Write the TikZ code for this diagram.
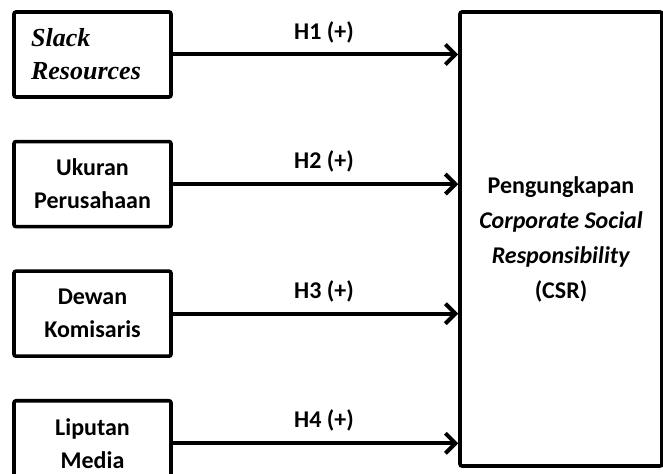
\documentclass[tikz,border=0pt]{standalone}
\usepackage{fontspec}
\setmainfont{Carlito}
\newfontfamily\timesfont{Liberation Serif}
\usetikzlibrary{positioning,arrows.meta}

\begin{document}
\begin{tikzpicture}[
    x=0.5pt, y=-0.5pt,
    var/.style={draw, line width=1.8pt, rounded corners=1pt,
                minimum width=78.5pt, minimum height=42.5pt,
                font=\fontsize{12}{16.5}\selectfont\bfseries, align=center},
    dep/.style={draw, line width=1.8pt, rounded corners=1pt,
                minimum width=101pt, minimum height=227pt,
                font=\fontsize{12}{17.5}\selectfont\bfseries, align=center},
    hyp/.style={->, line width=2pt,
                -{Straight Barb[length=5pt, width=10pt, line width=2pt]}},
    lbl/.style={above=1.5pt, pos=0.53, font=\fontsize{12}{14}\selectfont\bfseries},
    node distance=20.5pt,
  ]
    \useasboundingbox (0,0) rectangle (663,474);

    % independent variables
    \node[var, align=left, font=\timesfont\fontsize{13}{16.5}\selectfont\bfseries\itshape]
      (slack) at (92.5,54.5) {Slack\\Resources\hspace*{6.5pt}};
    \node[var, below=of slack] (ukuran) {Ukuran\\Perusahaan};
    \node[var, below=of ukuran] (dewan) {Dewan\\Komisaris};
    \node[var, below=of dewan] (media) {Liputan\\Media};

    % dependent variable
    \node[dep] (csr) at (561,239)
      {Pengungkapan\\\textit{Corporate Social}\\\textit{Responsibility}\\(CSR)};

    % hypotheses
    \draw[hyp] (slack.east) -- (slack.east -| csr.west) node[lbl] {H1 (+)};
    \draw[hyp] (ukuran.east) -- (ukuran.east -| csr.west) node[lbl] {H2 (+)};
    \draw[hyp] (dewan.east) -- (dewan.east -| csr.west) node[lbl] {H3 (+)};
    \draw[hyp] (media.east) -- (media.east -| csr.west) node[lbl] {H4 (+)};
  \end{tikzpicture}
\end{document}
